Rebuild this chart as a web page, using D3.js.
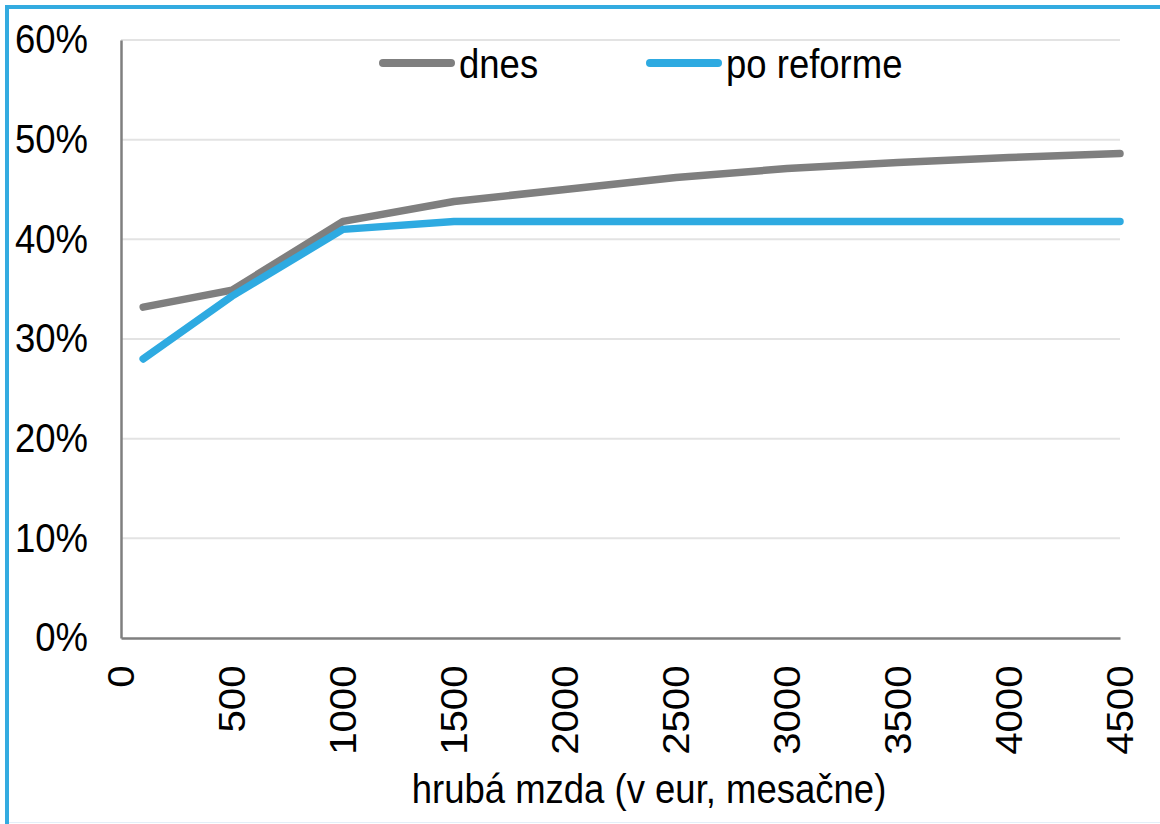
<!DOCTYPE html>
<html><head><meta charset="utf-8">
<script src="https://cdn.jsdelivr.net/npm/d3@7"></script>
<style>body{margin:0;background:#fff}svg{display:block}text{font-family:"Liberation Sans",Arial,sans-serif;fill:#000}</style>
</head><body>
<script>
const wages = [100, 500, 1000, 1500, 2000, 2500, 3000, 3500, 4000, 4500];
const dnes = [0.332, 0.349, 0.418, 0.438, 0.450, 0.462, 0.471, 0.477, 0.482, 0.486];
const poReforme = [0.280, 0.343, 0.410, 0.418, 0.418, 0.418, 0.418, 0.418, 0.418, 0.418];
const xTicks = [0, 500, 1000, 1500, 2000, 2500, 3000, 3500, 4000, 4500];
const yTicks = [0, 0.1, 0.2, 0.3, 0.4, 0.5, 0.6];
const seriesNames = ["dnes", "po reforme"];
const seriesColors = ["#7f7f7f", "#2eaae1"];
const xTitle = "hrubá mzda (v eur, mesačne)";

const W = 1160, H = 824;
const svg = d3.select("body").append("svg").attr("width", W).attr("height", H);
const x = d3.scaleLinear().domain([0, 4500]).range([121, 1120]);
const y = d3.scaleLinear().domain([0, 0.6]).range([638, 40]);
const fs = 36.5;
const sy = 1.1; // vertical stretch of text in the reference

// frame border
svg.append("line").attr("x1", 5).attr("x2", W).attr("y1", 7).attr("y2", 7).attr("stroke", "#33abe0").attr("stroke-width", 4);
svg.append("line").attr("x1", 7).attr("x2", 7).attr("y1", 5).attr("y2", H).attr("stroke", "#33abe0").attr("stroke-width", 4);
svg.append("line").attr("x1", 9).attr("x2", W).attr("y1", 822.5).attr("y2", 822.5).attr("stroke", "#e3eff8").attr("stroke-width", 1);

// gridlines
svg.append("g").selectAll("line").data(yTicks.filter(d => d > 0)).join("line")
  .attr("x1", x(0)).attr("x2", x(4500)).attr("y1", d => y(d)).attr("y2", d => y(d))
  .attr("stroke", "#e3e3e3").attr("stroke-width", 2);

// y axis
const ya = svg.append("g").attr("transform", `translate(${x(0)},0)`)
  .call(d3.axisLeft(y).tickValues(yTicks).tickFormat(d3.format(".0%")).tickSize(0).tickPadding(33));
ya.select(".domain").attr("stroke", "#7f7f7f").attr("stroke-width", 2.5);
ya.selectAll("text").style("font-size", fs + "px").attr("font-family", null).attr("fill", "#000")
  .attr("transform", `scale(1,${sy})`);

// x axis
const xa = svg.append("g").attr("transform", `translate(0,${y(0)})`)
  .call(d3.axisBottom(x).tickValues(xTicks).tickFormat(d3.format("d")).tickSize(0));
xa.select(".domain").attr("stroke", "#7f7f7f").attr("stroke-width", 2.5);
xa.selectAll("text").style("font-size", fs + "px").attr("font-family", null).attr("fill", "#000")
  .attr("text-anchor", "end").attr("transform", `scale(1,${sy}) rotate(-90)`)
  .attr("x", -25).attr("y", 0).attr("dy", "0.35em");

// lines
const series = [dnes, poReforme];
const line = d3.line().x((d, i) => x(wages[i])).y(d => y(d));
svg.append("g").selectAll("path").data(series).join("path")
  .attr("d", d => line(d)).attr("fill", "none")
  .attr("stroke", (d, i) => seriesColors[i]).attr("stroke-width", 7.5)
  .attr("stroke-linecap", "round").attr("stroke-linejoin", "round");

// legend
const legX = [383, 650];
const lg = svg.append("g").selectAll("g").data(seriesNames).join("g")
  .attr("transform", (d, i) => `translate(${legX[i]},63)`);
lg.append("line").attr("x1", 0).attr("x2", 68).attr("stroke", (d, i) => seriesColors[i])
  .attr("stroke-width", 8).attr("stroke-linecap", "round");
lg.append("g").attr("transform", `translate(76,15) scale(1,${sy})`)
  .append("text").style("font-size", fs + "px").text(d => d);

// x title
svg.append("g").attr("transform", `translate(649,803) scale(1,${sy})`)
  .append("text").attr("text-anchor", "middle")
  .style("font-size", fs + "px").text(xTitle);
</script>
</body></html>
